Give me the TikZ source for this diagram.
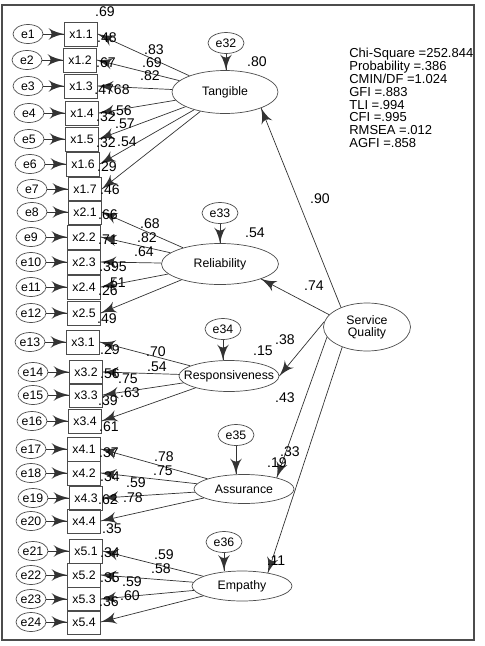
\documentclass[tikz,border=0pt]{standalone}
\usepackage{fontspec}
\setmainfont{Liberation Sans}
\usetikzlibrary{arrows}
\usetikzlibrary{decorations.markings}
\usetikzlibrary{shapes.geometric}
\tikzset{arr/.style = {draw = black!80, decoration = {markings,
                       mark = at position 1 with {\arrow[scale = 2.2]{latex'}}},
                       postaction = {decorate}}}
\tikzset{obs/.style = {draw = black!70, rectangle, inner sep = 0, minimum width = 0.66cm,
                       minimum height = 0.48cm, font = \fontsize{7}{8}\selectfont}}
\tikzset{err/.style = {draw = black!70, ellipse, inner sep = 0, minimum width = 0.6cm,
                       minimum height = 0.38cm, font = \fontsize{7}{8}\selectfont}}
\tikzset{res/.style = {err, minimum width = 0.72cm, minimum height = 0.42cm}}
\tikzset{lat/.style = {draw = black!70, ellipse, inner sep = 0, font = \fontsize{7}{7}\selectfont}}
\tikzset{coef/.style = {inner sep = 0, font = \fontsize{8}{8}\selectfont}}

\begin{document}
\begin{tikzpicture}[x = 0.02cm, y = -0.02cm, line width = 0.4pt]
      \useasboundingbox (0, 0) rectangle (484, 646);
      \draw [black!70, line width = 1.1pt] (2, 5) rectangle (474, 640);

      \foreach \t/\x/\y [count = \i] in {x1.1/81/34, x1.2/80/60, x1.3/81/86, x1.4/82/113,
          x1.5/82/139, x1.6/83/164, x1.7/85/189, x2.1/85/212, x2.2/84/237, x2.3/84/262,
          x2.4/84/287, x2.5/84/313, x3.1/83/342, x3.2/86/372, x3.3/86/395, x3.4/85/421,
          x4.1/84/449, x4.2/84/473, x4.3/86/498, x4.4/84/521, x5.1/86/551, x5.2/84/575,
          x5.3/84/599, x5.4/84/622} {
        \node (b\i) at (\x, \y) [obs] {\t};
        \node (e\i) at (\x - 53, \y) [err] {e\i};
        \draw [arr] (e\i) -- (b\i);
      }

      \node (tang) at (225, 92) [lat, minimum width = 2.12cm, minimum height = 0.86cm] {Tangible};
      \node (rel) at (220, 264) [lat, minimum width = 2.34cm, minimum height = 0.82cm] {Reliability};
      \node (resp) at (229, 376) [lat, minimum width = 2cm, minimum height = 0.62cm] {\makebox[0pt]{Responsiveness}};
      \node (assu) at (244, 489) [lat, minimum width = 2cm, minimum height = 0.58cm] {Assurance};
      \node (emp) at (242, 586) [lat, minimum width = 2cm, minimum height = 0.6cm] {Empathy};
      \node (sq) at (367, 327) [lat, minimum width = 1.74cm, minimum height = 0.96cm, align = center] {Service\\Quality};

      \node (e32) at (226, 43) [res] {e32};
      \node (e33) at (220, 213) [res] {e33};
      \node (e34) at (223, 329) [res] {e34};
      \node (e35) at (236, 435) [res] {e35};
      \node (e36) at (224, 542) [res] {e36};
      \draw [arr] (e32) -- (e32 |- tang.north);
      \draw [arr] (e33) -- (e33 |- rel.north);
      \draw [arr] (e34) -- (e34 |- resp.north);
      \draw [arr] (e35) -- (e35 |- assu.north);
      \draw [arr] (e36) -- (e36 |- emp.north);

      \foreach \i in {1, ..., 7} \draw [arr] (tang) -- (b\i.east);
      \foreach \i in {8, ..., 12} \draw [arr] (rel) -- (b\i.east);
      \foreach \i in {13, ..., 16} \draw [arr] (resp) -- (b\i.east);
      \foreach \i in {17, ..., 20} \draw [arr] (assu) -- (b\i.east);
      \foreach \i in {21, ..., 24} \draw [arr] (emp) -- (b\i.east);

      \draw [arr] (sq.143) -- (tang.-24);
      \draw [arr] (sq.162) -- (rel.-20);
      \draw [arr] (sq.173) -- (resp.east);
      \draw [arr] (sq.194) -- (assu.19);
      \draw [arr] (sq.219) -- (emp.27);

      \foreach \t/\x/\y [count = \k] in {.69/105/12, .48/107/38, .67/106/63, .4768/112/90,
          .56/122/111, .32/106/117, .57/125/124, .32/106/143, .54/127/142, .29/107/167,
          .46/110/190, .83/154/50, .69/152/63, .82/150/76, .66/108/215, .68/150/224,
          .82/147/238, .71/108/240, .64/144/252, .395/113/267, .51/116/283, .26/108/291,
          .49/107/319, .29/110/350, .70/156/352, .54/157/367, .56/110/374, .75/128/379,
          .63/130/393, .39/108/401, .61/109/427, .37/109/453, .78/164/457, .75/163/471,
          .34/110/477, .59/136/483, .62/108/500, .78/133/498, .35/112/529, .34/110/553,
          .59/164/555, .58/161/569, .35/110/578, .59/132/582, .60/130/596, .36/109/602,
          .80/257/62, .54/255/233, .15/263/351, .38/285/340, .43/285/398, .33/290/452,
          .19/277/463, .11/276/561, .90/320/199, .74/314/286}
        \node (c\k) at (\x, \y) [coef] {\t};

      \node (fit) at (349, 48) [anchor = north west, inner sep = 0, align = left,
                                font = \fontsize{7.4}{7.3}\selectfont]
        {Chi-Square =252.844\\Probability =.386\\CMIN/DF =1.024\\GFI =.883\\TLI =.994\\CFI =.995\\RMSEA =.012\\AGFI =.858};
    \end{tikzpicture}
\end{document}
